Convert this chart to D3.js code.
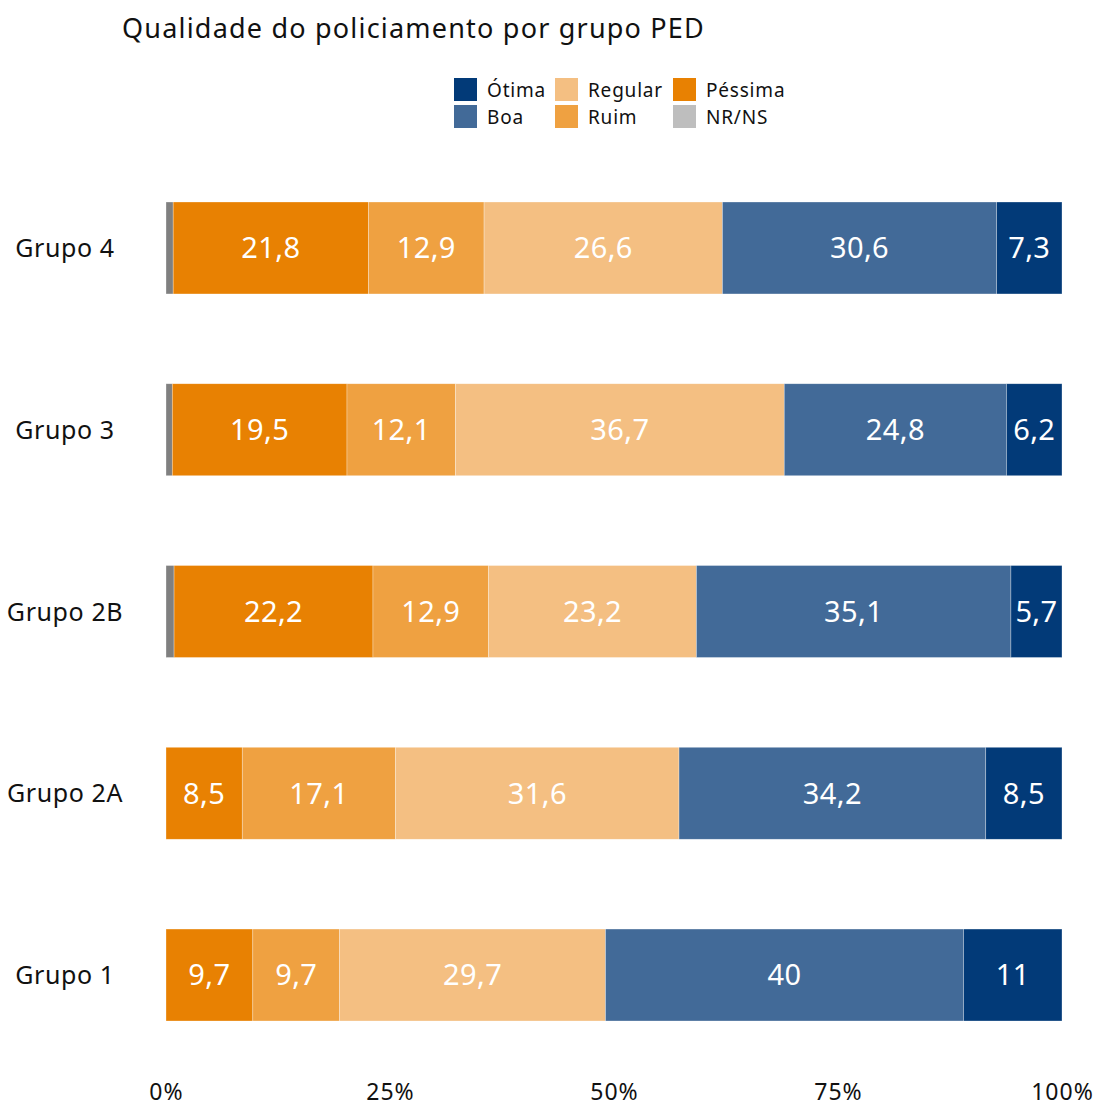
<!DOCTYPE html>
<html>
<head>
<meta charset="utf-8">
<script src="https://cdn.jsdelivr.net/npm/d3@7"></script>
<style>
  body { margin: 0; background: #fff; }
  svg text { font-family: "Noto Sans", "Open Sans", sans-serif; }
</style>
</head>
<body>
<script>
// categories (top to bottom) and series values, in %
var grupos = ["Grupo 4", "Grupo 3", "Grupo 2B", "Grupo 2A", "Grupo 1"];
var nrns    = [0.8, 0.7, 0.9, 0, 0];
var pessima = [21.8, 19.5, 22.2, 8.5, 9.7];
var ruim    = [12.9, 12.1, 12.9, 17.1, 9.7];
var regular = [26.6, 36.7, 23.2, 31.6, 29.7];
var boa     = [30.6, 24.8, 35.1, 34.2, 40];
var otima   = [7.3, 6.2, 5.7, 8.5, 11];
var tickLabels = ["0%", "25%", "50%", "75%", "100%"];

var keys = ["NR/NS", "Péssima", "Ruim", "Regular", "Boa", "Ótima"];
var colors = {
  "NR/NS": "#808080", "Péssima": "#e88102", "Ruim": "#efa141",
  "Regular": "#f4bf82", "Boa": "#426a98", "Ótima": "#023a78"
};
var legendColors = Object.assign({}, colors, {"NR/NS": "#bebebe"});

var rows = grupos.map(function(g, i) {
  return {grupo: g, "NR/NS": nrns[i], "Péssima": pessima[i], "Ruim": ruim[i],
          "Regular": regular[i], "Boa": boa[i], "Ótima": otima[i]};
});

var width = 1097, height = 1110;

var svg = d3.select("body").append("svg")
    .attr("width", width)
    .attr("height", height);

var x = d3.scaleLinear().domain([0, 1]).range([166, 1062]);
var y = d3.scaleBand().domain(grupos).range([202, 1021])
    .paddingInner(0.494).paddingOuter(0);

var series = d3.stack().keys(keys).offset(d3.stackOffsetExpand)(rows);

var fmt = function(v) {
  return Number.isInteger(v) ? String(v) : v.toFixed(1).replace(".", ",");
};

var layers = svg.selectAll("g.layer")
    .data(series)
  .enter().append("g")
    .attr("class", "layer")
    .attr("fill", function(d) { return colors[d.key]; });

layers.selectAll("rect")
    .data(function(d) { return d; })
  .enter().append("rect")
    .attr("x", function(d) { return x(d[0]); })
    .attr("y", function(d) { return y(d.data.grupo); })
    .attr("width", function(d) { return Math.max(0, x(d[1]) - x(d[0])); })
    .attr("height", y.bandwidth())
    .attr("stroke", "rgba(255,255,255,0.5)")
    .attr("stroke-width", 0.6);

// value labels (skip NR/NS)
series.filter(function(s) { return s.key !== "NR/NS"; }).forEach(function(s) {
  svg.append("g").selectAll("text")
      .data(s)
    .enter().append("text")
      .attr("x", function(d) { return (x(d[0]) + x(d[1])) / 2; })
      .attr("y", function(d) { return y(d.data.grupo) + y.bandwidth() / 2; })
      .attr("dy", "0.36em")
      .attr("text-anchor", "middle")
      .attr("fill", "white")
      .style("font-size", "29px")
      .style("letter-spacing", "0.4px")
      .text(function(d) { return fmt(d.data[s.key]); });
});

// group labels
svg.append("g").selectAll("text")
    .data(grupos)
  .enter().append("text")
    .attr("x", 65)
    .attr("y", function(d) { return y(d) + y.bandwidth() / 2; })
    .attr("dy", "0.36em")
    .attr("text-anchor", "middle")
    .attr("fill", "#111")
    .style("font-size", "25px")
    .style("letter-spacing", "0.6px")
    .text(function(d) { return d; });

// x axis
var xAxis = svg.append("g")
    .attr("transform", "translate(0,1084)")
    .call(d3.axisBottom(x).tickValues([0, 0.25, 0.5, 0.75, 1])
      .tickFormat(function(d, i) { return tickLabels[i]; })
      .tickSize(0).tickPadding(0));
xAxis.select(".domain").remove();
xAxis.selectAll("text")
    .attr("fill", "#111")
    .style("font-size", "23px")
    .style("letter-spacing", "1px")
    .style("font-family", "'Noto Sans', sans-serif");

// title
svg.append("text")
    .attr("x", 122)
    .attr("y", 38)
    .attr("fill", "#111")
    .style("font-size", "27px")
    .style("letter-spacing", "1.2px")
    .text("Qualidade do policiamento por grupo PED");

// legend
var legendCols = [["Ótima", "Boa"], ["Regular", "Ruim"], ["Péssima", "NR/NS"]];
var colX = [454, 555, 673];
legendCols.forEach(function(col, ci) {
  col.forEach(function(k, ri) {
    var gy = 78 + ri * 27;
    svg.append("rect")
        .attr("x", colX[ci]).attr("y", gy)
        .attr("width", 23).attr("height", 23)
        .attr("fill", legendColors[k]);
    svg.append("text")
        .attr("x", colX[ci] + 33).attr("y", gy + 12)
        .attr("dy", "0.36em")
        .attr("fill", "#111")
        .style("font-size", "19px")
        .style("letter-spacing", "0.8px")
        .text(k);
  });
});
</script>
</body>
</html>
